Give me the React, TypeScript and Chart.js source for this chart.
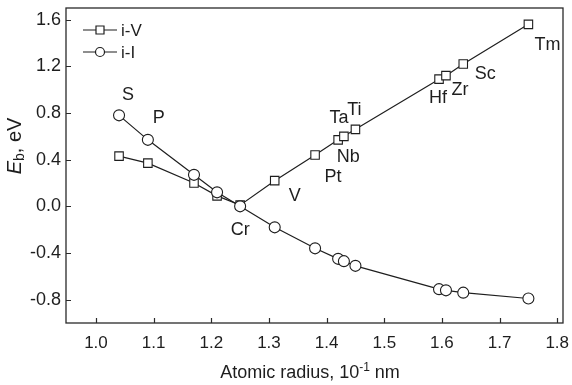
import React, { useEffect, useRef } from "react";
import { Chart, registerables } from "chart.js";

Chart.register(...registerables);

// ---- data ----
const elements = ["S", "P", "", "", "Cr", "V", "Pt", "Nb", "Ta", "Ti", "Hf", "Zr", "Sc", "Tm"];
const atomicRadius = [1.04, 1.09, 1.17, 1.21, 1.25, 1.31, 1.38, 1.42, 1.43, 1.45, 1.595, 1.607, 1.637, 1.75];
const ebIV = [0.43, 0.37, 0.2, 0.09, 0.01, 0.22, 0.44, 0.57, 0.6, 0.66, 1.09, 1.12, 1.22, 1.56];
const ebII = [0.78, 0.57, 0.27, 0.12, 0.0, -0.18, -0.36, -0.45, -0.47, -0.51, -0.71, -0.72, -0.74, -0.79];
const xTicks = [1.0, 1.1, 1.2, 1.3, 1.4, 1.5, 1.6, 1.7, 1.8];
const yTicks = [-0.8, -0.4, 0.0, 0.4, 0.8, 1.2, 1.6];
const seriesNames = ["i-V", "i-I"];

// annotation placement (which series the label sits next to, and pixel offset)
const labelAnchor = [1, 1, 0, 0, 1, 0, 0, 0, 0, 0, 0, 0, 0, 0];
const labelOffset: [number, number][] = [
  [9, -20], [11, -22], [0, 0], [0, 0], [0, 24], [20, 15], [18, 22], [10, 17],
  [-5, -18], [-1, -19], [-1, 19], [14, 14], [22, 10], [19, 21],
];

const FONT = "'Liberation Sans', Arial, sans-serif";
const INK = "#1e1e1e";

const overlay = {
  id: "overlay",
  afterDraw(chart: any) {
    const { ctx, chartArea } = chart;
    const { left, right, top, bottom } = chartArea;
    const xs = chart.scales.x;
    const ys = chart.scales.y;
    ctx.save();
    // frame
    ctx.strokeStyle = "#2a2a2a";
    ctx.lineWidth = 1.3;
    ctx.strokeRect(left, top, right - left, bottom - top);
    // inward ticks
    ctx.lineWidth = 1.2;
    ctx.beginPath();
    xTicks.forEach((v) => {
      const px = Math.round(xs.getPixelForValue(v)) + 0.5;
      ctx.moveTo(px, bottom);
      ctx.lineTo(px, bottom - 5);
    });
    yTicks.forEach((v) => {
      const py = Math.round(ys.getPixelForValue(v)) + 0.5;
      ctx.moveTo(left, py);
      ctx.lineTo(left + 5, py);
    });
    ctx.stroke();

    // element labels
    ctx.fillStyle = INK;
    ctx.font = `18px ${FONT}`;
    ctx.textAlign = "center";
    ctx.textBaseline = "middle";
    elements.forEach((name, i) => {
      if (!name) return;
      const meta = chart.getDatasetMeta(labelAnchor[i]);
      const pt = meta.data[i];
      const [dx, dy] = labelOffset[i];
      ctx.fillText(name, pt.x + dx, pt.y + dy);
    });

    // legend
    const ds = chart.data.datasets;
    seriesNames.forEach((name, k) => {
      const y = 30 + k * 22;
      const x0 = 83;
      const x1 = 117;
      const xm = (x0 + x1) / 2;
      ctx.strokeStyle = INK;
      ctx.lineWidth = 1.2;
      ctx.beginPath();
      ctx.moveTo(x0, y);
      ctx.lineTo(x1, y);
      ctx.stroke();
      ctx.fillStyle = "#fff";
      ctx.beginPath();
      if (ds[k].pointStyle === "rect") {
        ctx.rect(xm - 4, y - 4, 8, 8);
      } else {
        ctx.arc(xm, y, 4.5, 0, Math.PI * 2);
      }
      ctx.fill();
      ctx.stroke();
      ctx.fillStyle = INK;
      ctx.font = `17px ${FONT}`;
      ctx.textAlign = "left";
      ctx.textBaseline = "middle";
      ctx.fillText(name, x1 + 4, y + 1);
    });

    // x title with superscript
    {
      const main = "Atomic radius, 10";
      const sup = "-1";
      const tail = " nm";
      ctx.font = `18px ${FONT}`;
      const w1 = ctx.measureText(main).width;
      const w3 = ctx.measureText(tail).width;
      ctx.font = `12px ${FONT}`;
      const w2 = ctx.measureText(sup).width;
      const total = w1 + w2 + w3;
      const cx = 310;
      const base = 378;
      let x = cx - total / 2;
      ctx.textAlign = "left";
      ctx.textBaseline = "alphabetic";
      ctx.font = `18px ${FONT}`;
      ctx.fillText(main, x, base);
      x += w1;
      ctx.font = `12px ${FONT}`;
      ctx.fillText(sup, x, base - 7);
      x += w2;
      ctx.font = `18px ${FONT}`;
      ctx.fillText(tail, x, base);
    }

    // y title: E_b, eV rotated
    {
      ctx.save();
      ctx.translate(21, 146);
      ctx.rotate(-Math.PI / 2);
      ctx.textBaseline = "alphabetic";
      ctx.textAlign = "left";
      ctx.font = `italic 20px ${FONT}`;
      const wE = ctx.measureText("E").width;
      ctx.font = `14px ${FONT}`;
      const wb = ctx.measureText("b").width;
      ctx.font = `20px ${FONT}`;
      const wt = ctx.measureText(", eV").width;
      let x = -(wE + wb + wt) / 2;
      ctx.font = `italic 20px ${FONT}`;
      ctx.fillText("E", x, 0);
      x += wE;
      ctx.font = `14px ${FONT}`;
      ctx.fillText("b", x, 3);
      x += wb;
      ctx.font = `20px ${FONT}`;
      ctx.fillText(", eV", x, 0);
      ctx.restore();
    }
    ctx.restore();
  },
};

export default function App() {
  const ref = useRef<HTMLCanvasElement | null>(null);
  useEffect(() => {
    if (!ref.current) return;
    const chart = new Chart(ref.current, {
      type: "line",
      data: {
        datasets: [
          {
            label: seriesNames[0],
            data: atomicRadius.map((x, i) => ({ x, y: ebIV[i] })),
            borderColor: INK,
            borderWidth: 1.2,
            pointStyle: "rect",
            pointRadius: 6,
            pointBackgroundColor: "#fff",
            pointBorderColor: INK,
            pointBorderWidth: 1.1,
            tension: 0,
            fill: false,
            order: 2,
          },
          {
            label: seriesNames[1],
            data: atomicRadius.map((x, i) => ({ x, y: ebII[i] })),
            borderColor: INK,
            borderWidth: 1.2,
            pointStyle: "circle",
            pointRadius: 5.5,
            pointBackgroundColor: "#fff",
            pointBorderColor: INK,
            pointBorderWidth: 1.1,
            tension: 0,
            fill: false,
            order: 1,
          },
        ],
      },
      options: {
        responsive: false,
        animation: false,
        devicePixelRatio: 1,
        layout: { padding: { top: 8, right: 9, left: 0, bottom: 0 } },
        plugins: { legend: { display: false }, tooltip: { enabled: false } },
        scales: {
          x: {
            type: "linear",
            min: 0.948,
            max: 1.81,
            afterBuildTicks: (s: any) => {
              s.ticks = xTicks.map((v) => ({ value: v }));
            },
            afterFit: (s: any) => {
              s.height = 62;
              s.paddingLeft = 0;
              s.paddingRight = 0;
            },
            grid: { display: false, drawTicks: false },
            border: { display: false },
            ticks: {
              padding: 10,
              font: { family: FONT, size: 17 },
              color: INK,
              autoSkip: false,
              maxRotation: 0,
              callback: (v: any) => Number(v).toFixed(1),
            },
          },
          y: {
            type: "linear",
            min: -1.0,
            max: 1.7,
            afterBuildTicks: (s: any) => {
              s.ticks = yTicks.map((v) => ({ value: v }));
            },
            afterFit: (s: any) => {
              s.width = 66;
              s.paddingTop = 0;
              s.paddingBottom = 0;
            },
            grid: { display: false, drawTicks: false },
            border: { display: false },
            ticks: {
              padding: 5,
              font: { family: FONT, size: 18 },
              color: INK,
              callback: (v: any) => Number(v).toFixed(1),
            },
          },
        },
      },
      plugins: [overlay],
    });
    return () => chart.destroy();
  }, []);

  return (
    <div style={{ position: "absolute", left: 0, top: 0, width: 572, height: 385, background: "#fff" }}>
      <canvas ref={ref} width={572} height={385} style={{ display: "block" }} />
    </div>
  );
}
